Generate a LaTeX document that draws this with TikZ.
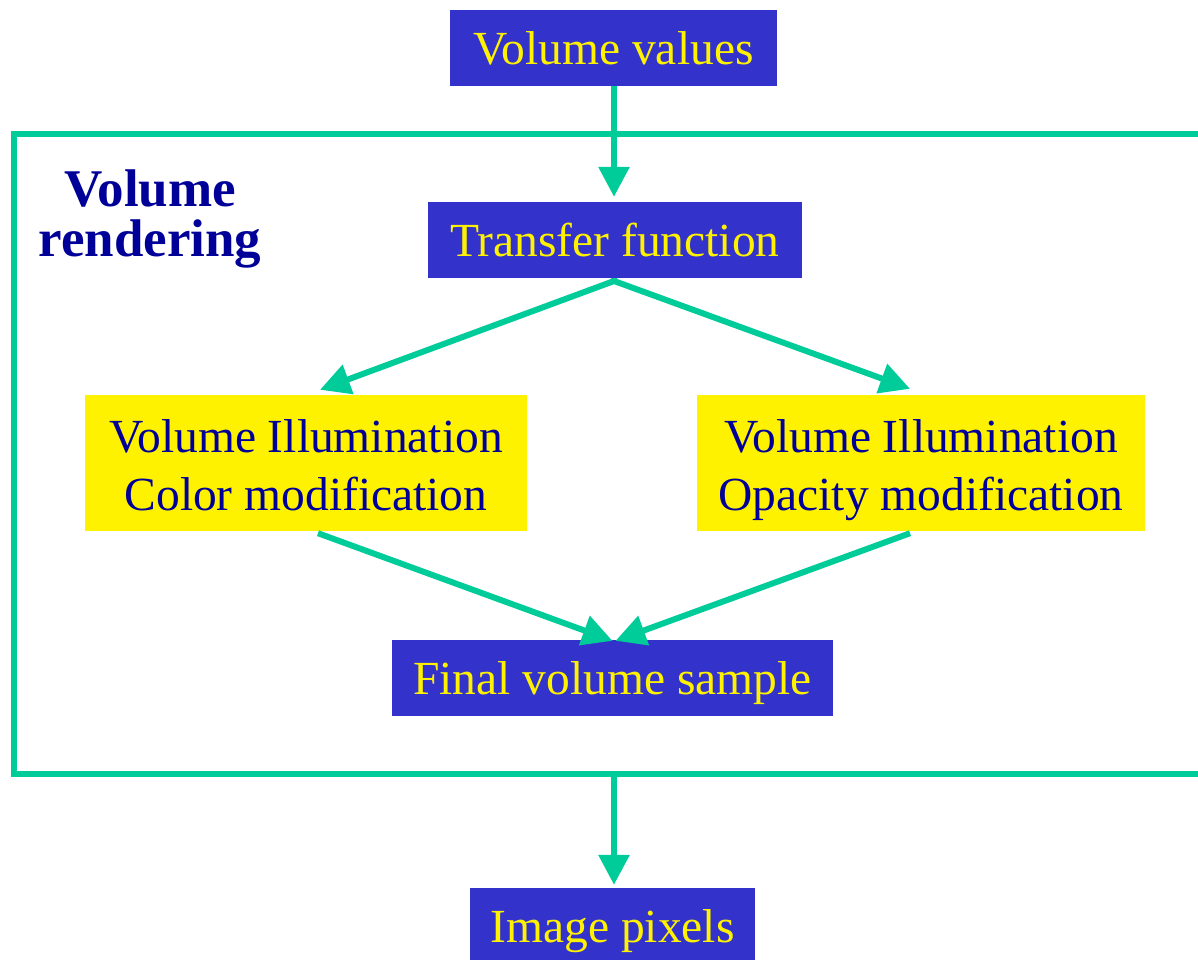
\documentclass[tikz,border=0pt]{standalone}
\usepackage{fontspec}
\setmainfont{Liberation Serif}
\usetikzlibrary{arrows.meta,calc}
\definecolor{boxblue}{RGB}{51,51,204}
\definecolor{flowgreen}{RGB}{0,204,153}
\definecolor{darkblue}{RGB}{0,0,153}
\begin{document}
\begin{tikzpicture}[x=1pt,y=-1pt,
  bluebox/.style={fill=boxblue,text=yellow,minimum height=76pt,inner sep=0pt,
    text height=33pt,text depth=0pt,font=\fontsize{47.5}{57}\selectfont},
  yellowbox/.style={fill=yellow,text=darkblue,minimum height=136pt,inner sep=0pt,
    align=center,font=\fontsize{47.5}{57.5}\selectfont},
  flow/.style={draw=flowgreen,line width=6pt},
  arr/.style={flow,-{Triangle[length=30pt,width=30pt]}},
]
\useasboundingbox (0,0) rectangle (1198,959);

% outer frame of the rendering stage, open to the right
\draw[flow,line join=miter] (1210,134) -- (14,134) -- (14,774) -- (1210,774);

\node[text=darkblue,align=center,inner sep=0pt,
  font=\fontsize{53}{50}\selectfont\bfseries] (vr) at (150,218.5) {Volume\\rendering};

% pipeline boxes
\node[bluebox,minimum width=327pt] (vv) at (613.5,47.5) {Volume values};
\node[bluebox,minimum width=374pt] (tf) at (615,240) {Transfer function};
\node[yellowbox,minimum width=442pt] (lc) at (306,463)
  {\rule{0pt}{48.5pt}Volume Illumination\\Color modification\rule[-12pt]{0pt}{0pt}};
\node[yellowbox,minimum width=448pt] (rc) at (921,463)
  {\rule{0pt}{48.5pt}Volume Illumination\\Opacity modification\rule[-12pt]{0pt}{0pt}};
\node[bluebox,minimum width=441pt] (fvs) at (612.5,678) {Final volume sample};
\node[bluebox,minimum width=285pt] (ip) at (612.5,926) {Image pixels};

% connectors
\coordinate (ap) at (614,281);
\coordinate (fb) at (614,774);
\draw[arr,shorten >=5pt] (vv.south -| ap) -- (tf.north -| ap);
\draw[flow] ($(tf.south)+(-1,0)$) -- (ap);
\draw[arr] (ap) -- ($(lc.north)+(14,-5)$);
\draw[arr] (ap) -- ($(rc.north)+(-11,-6)$);
\draw[arr] ($(lc.south)+(12,2)$) -- ($(fvs.north)+(0,1)$);
\draw[arr] ($(rc.south)+(-11,2)$) -- ($(fvs.north)+(3,1)$);
\draw[arr,shorten >=3pt] (fb) -- (ip.north -| fb);
\end{tikzpicture}
\end{document}
